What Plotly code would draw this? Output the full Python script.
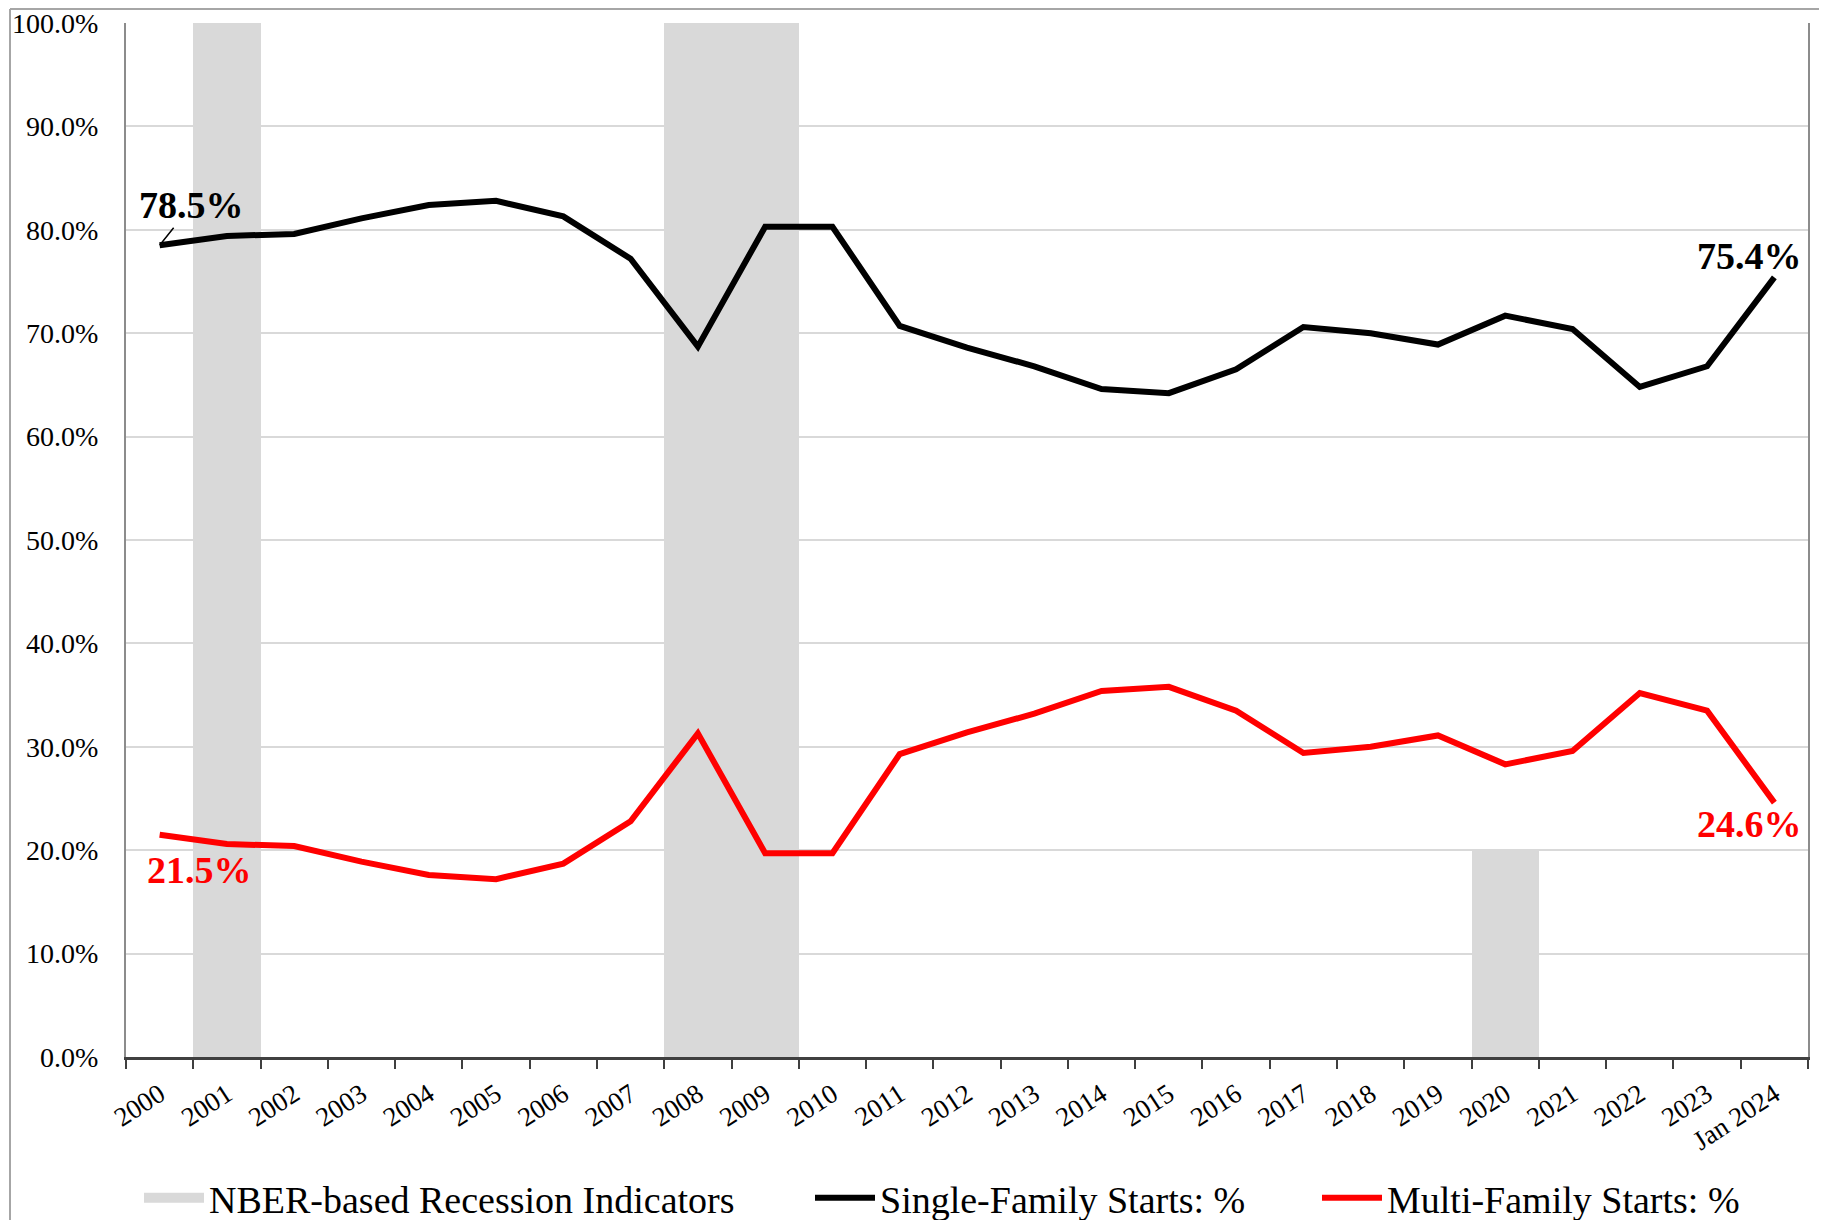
import plotly.graph_objects as go

years = [str(y) for y in range(2000, 2024)] + ["Jan 2024"]
single_family = [78.5, 79.4, 79.6, 81.1, 82.4, 82.8, 81.3, 77.2, 68.7, 80.3, 80.3, 70.7, 68.6,
                 66.8, 64.6, 64.2, 66.5, 70.6, 70.0, 68.9, 71.7, 70.4, 64.8, 66.8, 75.4]
multi_family = [21.5, 20.6, 20.4, 18.9, 17.6, 17.2, 18.7, 22.8, 31.3, 19.7, 19.7, 29.3, 31.4,
                33.2, 35.4, 35.8, 33.5, 29.4, 30.0, 31.1, 28.3, 29.6, 35.2, 33.5, 24.6]
recession = [0, 100, 0, 0, 0, 0, 0, 0, 100, 100, 0, 0, 0,
             0, 0, 0, 0, 0, 0, 0, 20, 0, 0, 0, 0]
y_ticks = [0, 10, 20, 30, 40, 50, 60, 70, 80, 90, 100]
y_tick_labels = [f"{v:.1f}%" for v in y_ticks]

FONT = "Liberation Serif"
OFF = 8  # default page body margin
W, H = 1827 - OFF, 1220 - OFF
# plot area edges in window pixels
PL, PR, PT, PB = 126, 1808, 23, 1057
ML, MR, MT, MB = PL - OFF, W - (PR - OFF), PT - OFF, H - (PB - OFF)
PW = W - ML - MR
PH = H - MT - MB

def px_to_paper_x(px):
    return (px - PL) / PW

def py_to_paper_y(py):
    return (PB - py) / PH

fig = go.Figure()
fig.add_trace(go.Bar(x=years, y=recession, marker=dict(color="#d9d9d9", line=dict(width=0)),
                     name="NBER-based Recession Indicators", showlegend=False, hoverinfo="skip"))
# legend marker for recession indicator (thick gray swatch)
fig.add_trace(go.Scatter(x=[None], y=[None], mode="lines", line=dict(color="#d9d9d9", width=23),
                         name="NBER-based Recession Indicators", legend="legend"))
fig.add_trace(go.Scatter(x=years, y=single_family, mode="lines", line=dict(color="black", width=6),
                         name="Single-Family Starts: %", legend="legend2"))
fig.add_trace(go.Scatter(x=years, y=multi_family, mode="lines", line=dict(color="#ff0000", width=6),
                         name="Multi-Family Starts: %", legend="legend3"))

ANN_SIZE = 38
n = len(years)
fig.add_annotation(x=0, y=single_family[0], text="<b>78.5%</b>", showarrow=True,
                   arrowhead=0, arrowwidth=1.5, arrowcolor="black", ax=32, ay=-40,
                   font=dict(family=FONT, size=ANN_SIZE, color="black"), standoff=0)
fig.add_annotation(x=0, y=multi_family[0], text="<b>21.5%</b>", showarrow=False,
                   xshift=40, yshift=-35, font=dict(family=FONT, size=ANN_SIZE, color="#ff0000"))
fig.add_annotation(x=n - 1, y=single_family[-1], text="<b>75.4%</b>", showarrow=False,
                   xanchor="right", xshift=30, yshift=21, font=dict(family=FONT, size=ANN_SIZE, color="black"))
fig.add_annotation(x=n - 1, y=multi_family[-1], text="<b>24.6%</b>", showarrow=False,
                   xanchor="right", xshift=30, yshift=-21, font=dict(family=FONT, size=ANN_SIZE, color="#ff0000"))

# outer chart frame
fig.add_shape(type="line", xref="paper", yref="paper", x0=px_to_paper_x(10), x1=px_to_paper_x(1830),
              y0=py_to_paper_y(9), y1=py_to_paper_y(9), line=dict(color="#a6a6a6", width=2))
fig.add_shape(type="line", xref="paper", yref="paper", x0=px_to_paper_x(10), x1=px_to_paper_x(10),
              y0=py_to_paper_y(9), y1=py_to_paper_y(1225), line=dict(color="#a6a6a6", width=2))

legend_common = dict(orientation="h", yanchor="middle", y=py_to_paper_y(1198), xanchor="left",
                     font=dict(family=FONT, size=38, color="black"), bgcolor="rgba(0,0,0,0)",
                     itemwidth=60, tracegroupgap=0)
fig.update_layout(
    width=W, height=H,
    margin=dict(l=ML, r=MR, t=MT, b=MB, autoexpand=False),
    paper_bgcolor="white", plot_bgcolor="white",
    bargap=0,
    font=dict(family=FONT, color="black"),
    legend=dict(**legend_common, x=px_to_paper_x(139)),
    legend2=dict(**legend_common, x=px_to_paper_x(810)),
    legend3=dict(**legend_common, x=px_to_paper_x(1317)),
    xaxis=dict(type="category", tickson="boundaries", ticks="outside", ticklen=9, tickwidth=2,
               tickcolor="#404040", showline=True, linecolor="#404040", linewidth=3,
               showgrid=False, tickangle=-33, tickfont=dict(family=FONT, size=27, color="black"),
               ticklabelstandoff=8, automargin=False, ticklabeloverflow="allow",
               range=[-0.5, len(years) - 0.5]),
    yaxis=dict(range=[0, 100], tickvals=y_ticks, ticktext=y_tick_labels, showgrid=True,
               gridcolor="#d9d9d9", gridwidth=2, zeroline=False, showline=True, mirror=True,
               linecolor="#8c8c8c", linewidth=2, ticks="", ticklabelstandoff=20, automargin=False,
               ticklabeloverflow="allow",
               tickfont=dict(family=FONT, size=28, color="black")),
)

fig.write_html("out.html")
